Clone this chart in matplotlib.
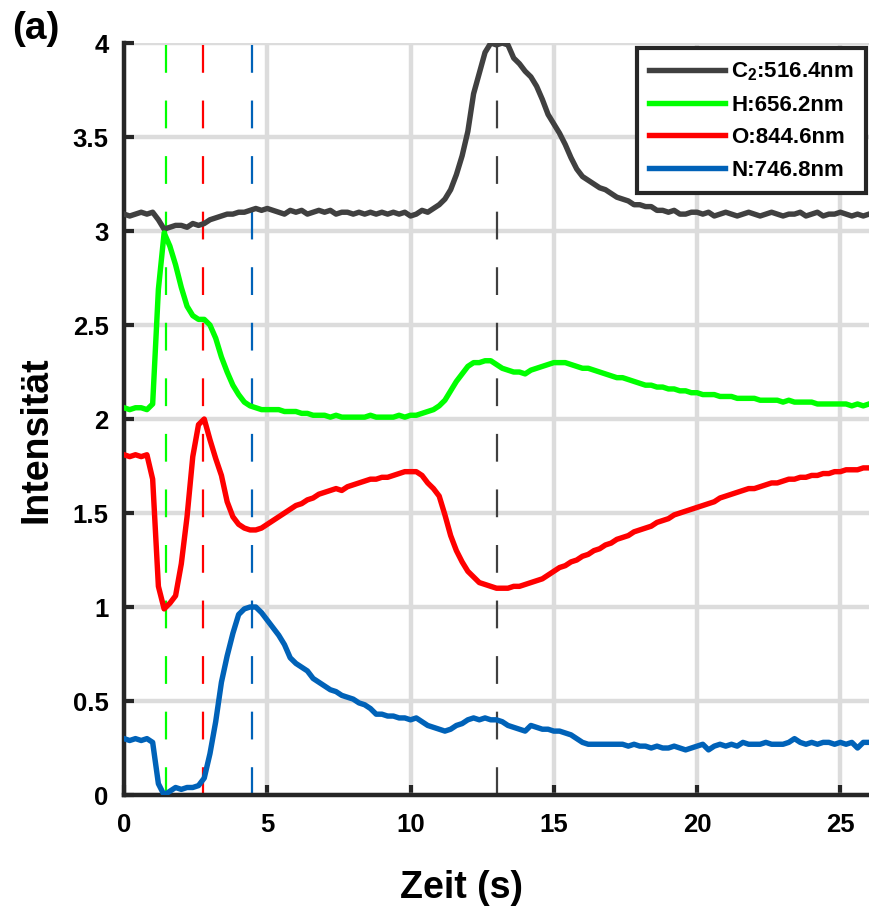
import numpy as np
import matplotlib
matplotlib.use("Agg")
import matplotlib.pyplot as plt

plt.rcParams['font.family'] = ['Liberation Sans', 'DejaVu Sans']
plt.rcParams['font.weight'] = 'bold'
plt.rcParams['mathtext.fontset'] = 'custom'
plt.rcParams['mathtext.bf'] = 'Liberation Sans:bold'
plt.rcParams['mathtext.rm'] = 'Liberation Sans:bold'
plt.rcParams['mathtext.default'] = 'bf'
plt.rcParams['lines.scale_dashes'] = False

# time axis, 0.2 s steps
zeit = np.round(np.arange(131) * 0.2, 1)

c2 = [3.09, 3.08, 3.09, 3.10, 3.09, 3.10, 3.06, 3.01, 3.02, 3.03,
      3.03, 3.02, 3.04, 3.03, 3.04, 3.06, 3.07, 3.08, 3.09, 3.09,
      3.10, 3.10, 3.11, 3.12, 3.11, 3.12, 3.11, 3.10, 3.09, 3.11,
      3.10, 3.11, 3.09, 3.10, 3.11, 3.10, 3.11, 3.09, 3.10, 3.10,
      3.09, 3.10, 3.09, 3.10, 3.09, 3.10, 3.09, 3.10, 3.09, 3.10,
      3.08, 3.09, 3.11, 3.10, 3.12, 3.14, 3.17, 3.22, 3.30, 3.40,
      3.53, 3.73, 3.84, 3.95, 4.00, 3.99, 4.00, 3.99, 3.92, 3.89,
      3.85, 3.82, 3.77, 3.70, 3.62, 3.57, 3.52, 3.46, 3.39, 3.33,
      3.29, 3.27, 3.25, 3.23, 3.22, 3.20, 3.18, 3.17, 3.16, 3.14,
      3.14, 3.13, 3.13, 3.11, 3.11, 3.10, 3.11, 3.09, 3.09, 3.10,
      3.10, 3.09, 3.10, 3.08, 3.09, 3.10, 3.09, 3.08, 3.09, 3.10,
      3.09, 3.08, 3.09, 3.10, 3.09, 3.08, 3.09, 3.09, 3.10, 3.08,
      3.09, 3.10, 3.08, 3.09, 3.09, 3.10, 3.09, 3.08, 3.09, 3.08,
      3.09]

h = [2.06, 2.05, 2.06, 2.06, 2.05, 2.08, 2.69, 2.99, 2.92, 2.82,
     2.70, 2.60, 2.55, 2.53, 2.53, 2.50, 2.43, 2.33, 2.25, 2.18,
     2.13, 2.09, 2.07, 2.06, 2.05, 2.05, 2.05, 2.05, 2.04, 2.04,
     2.04, 2.03, 2.03, 2.02, 2.02, 2.02, 2.01, 2.02, 2.01, 2.01,
     2.01, 2.01, 2.01, 2.02, 2.01, 2.01, 2.01, 2.01, 2.02, 2.01,
     2.02, 2.02, 2.03, 2.04, 2.05, 2.07, 2.10, 2.15, 2.20, 2.24,
     2.28, 2.30, 2.30, 2.31, 2.31, 2.29, 2.27, 2.26, 2.25, 2.25,
     2.24, 2.26, 2.27, 2.28, 2.29, 2.30, 2.30, 2.30, 2.29, 2.28,
     2.27, 2.27, 2.26, 2.25, 2.24, 2.23, 2.22, 2.22, 2.21, 2.20,
     2.19, 2.18, 2.18, 2.17, 2.17, 2.16, 2.16, 2.15, 2.15, 2.14,
     2.14, 2.13, 2.13, 2.13, 2.12, 2.12, 2.12, 2.11, 2.11, 2.11,
     2.11, 2.10, 2.10, 2.10, 2.10, 2.09, 2.10, 2.09, 2.09, 2.09,
     2.09, 2.08, 2.08, 2.08, 2.08, 2.08, 2.08, 2.07, 2.08, 2.07,
     2.08]

o = [1.81, 1.80, 1.81, 1.80, 1.81, 1.68, 1.11, 0.99, 1.02, 1.06,
     1.23, 1.48, 1.80, 1.97, 2.00, 1.89, 1.79, 1.70, 1.56, 1.48,
     1.44, 1.42, 1.41, 1.41, 1.42, 1.44, 1.46, 1.48, 1.50, 1.52,
     1.54, 1.55, 1.57, 1.58, 1.60, 1.61, 1.62, 1.63, 1.62, 1.64,
     1.65, 1.66, 1.67, 1.68, 1.68, 1.69, 1.69, 1.70, 1.71, 1.72,
     1.72, 1.72, 1.70, 1.66, 1.63, 1.59, 1.49, 1.38, 1.30, 1.24,
     1.19, 1.16, 1.13, 1.12, 1.11, 1.10, 1.10, 1.10, 1.11, 1.11,
     1.12, 1.13, 1.14, 1.15, 1.17, 1.19, 1.21, 1.22, 1.24, 1.25,
     1.27, 1.28, 1.30, 1.31, 1.33, 1.34, 1.36, 1.37, 1.38, 1.40,
     1.41, 1.42, 1.43, 1.45, 1.46, 1.47, 1.49, 1.50, 1.51, 1.52,
     1.53, 1.54, 1.55, 1.56, 1.58, 1.59, 1.60, 1.61, 1.62, 1.63,
     1.63, 1.64, 1.65, 1.66, 1.66, 1.67, 1.68, 1.68, 1.69, 1.69,
     1.70, 1.70, 1.71, 1.71, 1.72, 1.72, 1.73, 1.73, 1.73, 1.74,
     1.74]

n = [0.30, 0.29, 0.30, 0.29, 0.30, 0.28, 0.06, 0.00, 0.02, 0.04,
     0.03, 0.04, 0.04, 0.05, 0.09, 0.22, 0.39, 0.60, 0.74, 0.86,
     0.96, 0.99, 1.00, 1.00, 0.97, 0.93, 0.89, 0.85, 0.80, 0.73,
     0.70, 0.68, 0.66, 0.62, 0.60, 0.58, 0.56, 0.55, 0.53, 0.52,
     0.51, 0.49, 0.48, 0.46, 0.43, 0.43, 0.42, 0.42, 0.41, 0.41,
     0.40, 0.41, 0.39, 0.37, 0.36, 0.35, 0.34, 0.35, 0.37, 0.38,
     0.40, 0.41, 0.40, 0.41, 0.40, 0.40, 0.39, 0.37, 0.36, 0.35,
     0.34, 0.37, 0.36, 0.35, 0.35, 0.34, 0.34, 0.33, 0.32, 0.30,
     0.28, 0.27, 0.27, 0.27, 0.27, 0.27, 0.27, 0.27, 0.26, 0.27,
     0.26, 0.26, 0.25, 0.26, 0.25, 0.25, 0.26, 0.25, 0.24, 0.25,
     0.26, 0.27, 0.24, 0.26, 0.27, 0.26, 0.27, 0.26, 0.28, 0.27,
     0.27, 0.27, 0.28, 0.27, 0.27, 0.27, 0.28, 0.30, 0.28, 0.27,
     0.28, 0.27, 0.28, 0.28, 0.27, 0.28, 0.27, 0.28, 0.25, 0.28,
     0.28]

labels = ['C$_2$:516.4nm', 'H:656.2nm', 'O:844.6nm', 'N:746.8nm']
colors = ['#404040', '#00ff00', '#ff0000', '#0062b8']
peak_times = [13.0, 1.45, 2.75, 4.45]   # dashed markers per species

fig = plt.figure(figsize=(8.69, 9.06), dpi=100)
ax = fig.add_axes([0.1427, 0.1225, 0.8573, 0.83])

for t, c in zip(peak_times, colors):
    ax.axvline(t, color=c, lw=1.6, dashes=(20, 20), zorder=2)

for y, c, lab in zip([c2, h, o, n], colors, labels):
    ax.plot(zeit, y, color=c, lw=3.9, label=lab, zorder=3,
            solid_joinstyle='round')

ax.set_xlim(0, 26)
ax.set_ylim(0, 4)
ax.set_xticks([0, 5, 10, 15, 20, 25])
ax.set_yticks([0, 0.5, 1, 1.5, 2, 2.5, 3, 3.5, 4])
ax.set_yticklabels(['0', '0.5', '1', '1.5', '2', '2.5', '3', '3.5', '4'])
ax.grid(True, color='#dcdcdc', lw=3.2, zorder=0)
ax.set_axisbelow(True)

for s in ['top', 'right']:
    ax.spines[s].set_visible(False)
for s in ['left', 'bottom']:
    ax.spines[s].set_linewidth(3.2)
    ax.spines[s].set_color('#262626')
ax.tick_params(direction='in', length=7, width=3, color='#262626',
               labelsize=18.5)
ax.tick_params(axis='y', pad=11)
ax.tick_params(axis='x', pad=13)
for lbl in ax.get_xticklabels() + ax.get_yticklabels():
    lbl.set_fontweight('bold')

ax.set_xlabel('Zeit (s)', fontsize=27, fontweight='bold')
ax.set_ylabel('Intensität', fontsize=27, fontweight='bold')
ax.xaxis.set_label_coords(0.453, -0.1)
ax.yaxis.set_label_coords(-0.093, 0.473)

leg = ax.legend(loc='upper right', bbox_to_anchor=(0.996, 0.993),
                borderaxespad=0, fontsize=16, handlelength=3.4,
                fancybox=False, framealpha=1, edgecolor='#262626',
                labelspacing=0.52, handletextpad=0.3, borderpad=0.55)
leg.get_frame().set_linewidth(3)
for tx in leg.get_texts():
    tx.set_fontweight('bold')

fig.text(0.014, 0.988, '(a)', fontsize=28, fontweight='bold', va='top')

fig.savefig('out.png', dpi=100)
